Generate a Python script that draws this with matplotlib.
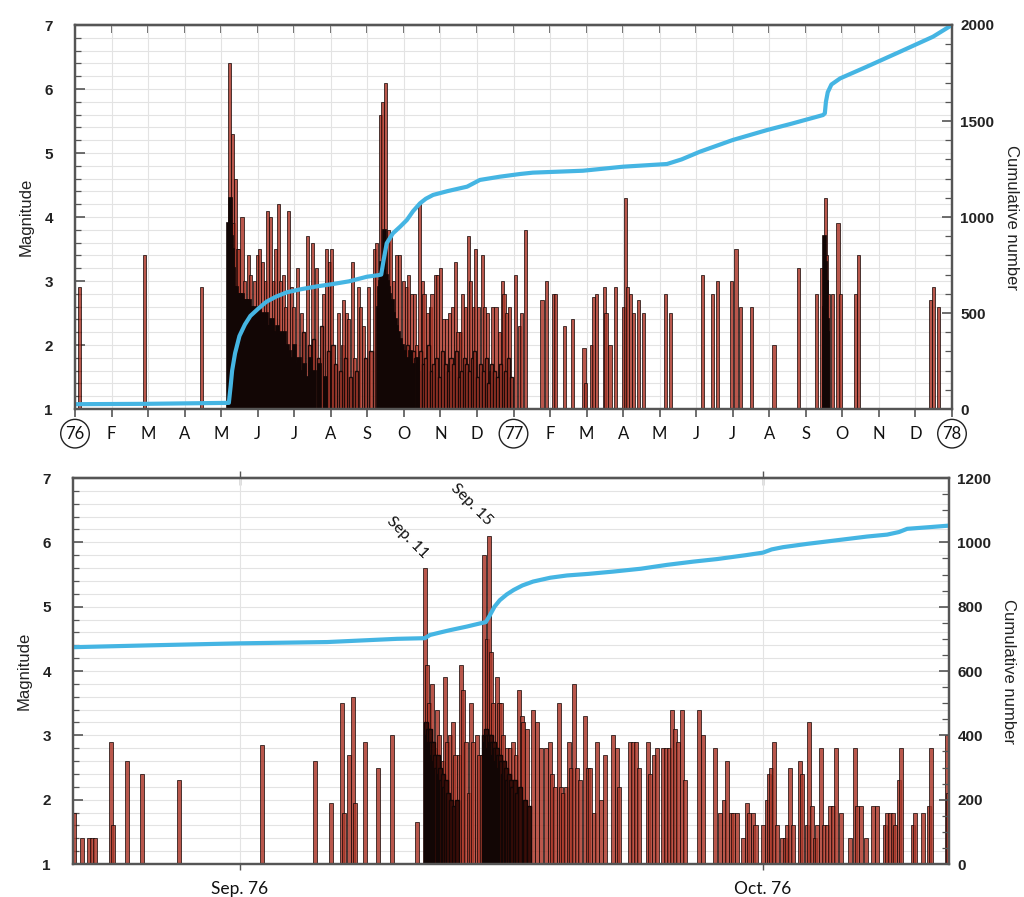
import matplotlib
matplotlib.use('Agg')
import matplotlib.pyplot as plt
from matplotlib.ticker import MultipleLocator

# ---------------- DATA: top panel (x in months since Jan 1976) ----------------
month_labels = ['76', 'F', 'M', 'A', 'M', 'J', 'J', 'A', 'S', 'O', 'N', 'D',
                '77', 'F', 'M', 'A', 'M', 'J', 'J', 'A', 'S', 'O', 'N', 'D', '78']
circled_labels = ['76', '77', '78']

top_t = [0.12, 1.90, 3.46, 4.22, 4.25, 4.30, 4.33, 4.39, 4.44, 4.48, 4.57, 4.64, 4.75, 4.81,
         4.90, 4.99, 5.04, 5.14, 5.21, 5.28, 5.36, 5.43, 5.48, 5.56, 5.63, 5.70, 5.76,
         5.85, 5.92, 5.97, 6.10, 6.19, 6.36, 6.49, 6.60, 6.81, 6.89, 6.96, 7.01, 7.22,
         7.31, 7.36, 7.44, 7.49, 7.60, 7.65, 7.76, 7.82, 7.89, 8.04, 8.20, 8.26, 8.35,
         8.42, 8.49, 8.57, 8.64, 8.71, 8.80, 8.89, 9.00, 9.06, 9.13, 9.22, 9.30, 9.35,
         9.42, 9.50, 9.55, 9.64, 9.72, 9.77, 9.86, 9.92, 10.01, 10.08, 10.17, 10.24,
         10.32, 10.41, 10.48, 10.54, 10.61, 10.68, 10.76, 10.83, 10.90, 10.97, 11.05,
         11.14, 11.21, 11.28, 11.36, 11.43, 11.52, 11.61, 11.70, 11.74, 11.81, 11.90,
         12.05, 12.16, 12.22, 12.34, 12.78, 12.91, 13.09, 13.16, 13.40, 13.62, 13.93,
         13.97, 14.13, 14.20, 14.28, 14.48, 14.53, 14.64, 14.79, 15.01, 15.06, 15.11,
         15.19, 15.28, 15.41, 15.55, 16.17, 16.30, 17.16, 17.45, 17.58, 17.96, 18.09,
         18.20, 18.51, 19.13, 19.79, 20.28, 20.44, 20.53, 20.57, 20.63, 20.74, 20.88,
         20.94, 21.35, 21.45, 23.42, 23.49, 23.64]
top_m = [2.9, 3.4, 2.9, 6.4, 4.3, 5.3, 3.9, 4.6, 3.5, 3.5, 4.0, 3.0, 3.4, 3.1,
         3.0, 3.4, 3.5, 3.3, 3.0, 4.1, 4.0, 3.0, 3.5, 4.2, 3.0, 3.1, 2.6,
         4.1, 2.9, 2.6, 3.2, 2.5, 3.7, 3.6, 3.2, 2.8, 3.5, 3.3, 3.5, 2.5,
         2.0, 2.7, 2.5, 2.4, 3.3, 1.8, 2.9, 2.6, 2.3, 2.9, 3.5, 3.6, 5.6,
         5.8, 6.1, 3.8, 3.7, 3.0, 3.4, 3.4, 3.0, 2.9, 3.1, 2.8, 2.8, 2.0,
         4.2, 3.0, 2.8, 2.5, 2.6, 2.8, 3.1, 3.1, 3.2, 2.4, 2.4, 2.5,
         2.6, 3.3, 2.2, 2.2, 2.8, 2.6, 3.7, 3.0, 2.6, 3.5, 2.6,
         3.4, 2.6, 2.5, 1.6, 2.6, 2.6, 2.2, 3.0, 2.8, 2.5, 2.6,
         3.1, 2.3, 2.5, 3.8, 2.7, 3.0, 2.8, 2.8, 2.3, 2.4, 1.95,
         1.4, 2.0, 2.75, 2.8, 2.9, 2.5, 2.0, 2.9, 2.6, 4.3, 2.9,
         2.8, 2.5, 2.7, 2.5, 2.8, 2.5, 3.1, 2.8, 3.0, 3.0, 3.5,
         2.6, 2.6, 2.0, 3.2, 2.8, 3.2, 4.3, 3.4, 2.8, 2.8, 3.9,
         2.8, 2.8, 3.4, 2.7, 2.9, 2.6]

# dense aftershock swarms (many overlapping events)
top_swarm_t = [4.21, 4.24, 4.26, 4.28, 4.31, 4.33, 4.36, 4.38, 4.41, 4.43, 4.46, 4.50,
               4.53, 4.55, 4.59, 4.62, 4.66, 4.69, 4.72, 4.77, 4.80, 4.84, 4.87, 4.92,
               4.95, 4.98, 5.02, 5.06, 5.10, 5.12, 5.17, 5.19, 5.24, 5.26, 5.31, 5.34,
               5.39, 5.41, 5.46, 5.50, 5.53, 5.58, 5.61, 5.66, 5.68, 5.73, 5.78, 5.81,
               5.88, 5.94, 6.00, 6.06, 6.13, 6.21, 6.27, 6.34, 6.45, 6.55, 6.70, 6.85,
               8.30, 8.33, 8.37, 8.40, 8.44, 8.47, 8.51, 8.54, 8.58, 8.61, 8.65, 8.68,
               8.72, 8.76, 8.80, 8.85, 8.90, 8.95, 9.02, 9.09, 9.18, 9.27, 9.38,
               20.50, 20.52, 20.545, 20.56, 20.58, 20.60]
top_swarm_m = [3.9, 3.8, 4.3, 3.7, 3.5, 3.2, 2.9, 2.8, 2.8, 2.9, 2.7, 2.8,
               2.8, 2.7, 2.8, 2.6, 2.7, 2.7, 2.6, 2.7, 2.5, 2.6, 2.5, 2.6,
               2.5, 2.4, 2.5, 2.6, 2.4, 2.5, 2.4, 2.3, 2.5, 2.3, 2.2, 2.3,
               2.4, 2.2, 2.1, 2.2, 2.3, 2.1, 2.2, 2.0, 2.1, 2.2, 1.9, 2.0,
               1.9, 1.8, 2.0, 1.7, 1.8, 1.6, 1.7, 1.5, 1.8, 1.6, 1.7, 1.5,
               2.6, 2.9, 3.0, 3.3, 2.9, 3.8, 3.1, 3.0, 2.9, 2.8, 2.6, 2.7,
               2.5, 2.4, 2.3, 2.2, 2.1, 2.0, 1.9, 1.8, 1.9, 1.7, 1.8,
               2.6, 3.7, 3.3, 3.0, 2.4, 2.2]

# smaller background events
top_small_t = [6.25, 6.42, 6.53, 6.66, 6.75, 6.93, 7.06, 7.13, 7.27, 7.40, 7.55, 7.70,
               7.94, 8.10, 9.03, 9.10, 9.17, 9.26, 9.33, 9.39, 9.46, 9.53, 9.60, 9.68,
               9.75, 9.82, 9.90, 9.97, 10.05, 10.13, 10.21, 10.29, 10.37, 10.45, 10.52,
               10.58, 10.65, 10.72, 10.80, 10.87, 10.94, 11.01, 11.10, 11.18, 11.25,
               11.33, 11.40, 11.48, 11.56, 11.65, 11.78, 11.86, 11.95]
top_small_m = [2.2, 2.0, 2.1, 1.8, 2.3, 1.9, 2.0, 1.7, 1.6, 1.8, 1.5, 1.6,
               1.8, 1.9, 1.8, 2.0, 1.7, 1.9, 1.8, 1.6, 1.9, 1.7, 1.8, 2.0,
               1.6, 1.7, 1.8, 1.5, 1.9, 1.7, 1.6, 1.8, 1.7, 1.9, 1.5,
               1.6, 1.8, 1.7, 1.6, 1.8, 1.9, 1.5, 1.7, 1.6, 1.8,
               1.4, 1.7, 1.6, 1.5, 1.7, 1.6, 1.8, 1.5]

top_cum_t = [0.0, 2.0, 4.21, 4.26, 4.30, 4.38, 4.50, 4.65, 4.80, 5.00, 5.24, 5.50, 5.80,
             6.16, 6.60, 7.06, 7.50, 7.99, 8.30, 8.38, 8.45, 8.53, 8.70, 8.90, 9.08,
             9.25, 9.44, 9.60, 9.80, 10.20, 10.73, 11.08, 11.63, 12.18, 12.53, 13.90,
             15.0, 16.20, 16.60, 17.1, 18.0, 18.94, 19.57, 20.47, 20.52, 20.55, 20.60,
             20.70, 20.94, 21.67, 22.58, 23.48, 24.0]
top_cum_n = [25, 27, 32, 120, 200, 290, 380, 440, 485, 520, 559, 585, 608,
             623, 638, 651, 665, 689, 697, 700, 780, 863, 915, 950, 984,
             1030, 1071, 1095, 1115, 1135, 1158, 1193, 1210, 1224, 1231, 1241,
             1262, 1276, 1300, 1340, 1401, 1453, 1484, 1531, 1540, 1600, 1650,
             1690, 1722, 1783, 1861, 1939, 2000]

# ---------------- DATA: bottom panel (x in days since 1 Sep 1976) ----------------
bot_tick_pos = [0, 30]
bot_tick_labels = ['Sep. 76', 'Oct. 76']

bot_t = [-9.52, -9.06, -8.68, -8.49, -8.30, -7.40, -7.30, -6.46, -5.62, -3.52, 1.24,
         4.32, 5.22, 5.83, 5.99, 6.24, 6.46, 6.58, 7.17, 7.94, 8.72, 10.14, 10.63,
         10.71, 10.83, 11.02, 11.17, 11.32, 11.44, 11.63, 11.78, 11.89, 12.05, 12.20,
         12.35, 12.55, 12.70, 12.81, 12.97, 13.12, 13.24, 13.39, 13.58, 13.73, 13.88,
         14.00, 14.15, 14.27, 14.38, 14.53, 14.73, 14.84, 14.96, 15.11, 15.22, 15.34,
         15.49, 15.68, 15.83, 15.99, 16.18, 16.26, 16.45, 16.79, 17.02, 17.29, 17.56,
         17.79, 17.90, 18.09, 18.32, 18.43, 18.55, 18.70, 18.89, 19.01, 19.16, 19.35,
         19.51, 19.81, 19.97, 20.08, 20.31, 20.46, 20.69, 20.92, 21.42, 21.61, 21.73,
         22.38, 22.53, 22.72, 22.91, 23.41, 23.52, 23.75, 23.91, 24.29, 24.44, 24.63,
         24.78, 24.98, 25.13, 25.36, 25.51, 26.32, 26.55, 27.23, 27.54, 27.77, 27.96,
         28.19, 28.30, 28.53, 28.88, 29.07, 29.22, 29.45, 29.57, 30.02, 30.22, 30.33,
         30.48, 30.64, 30.79, 31.10, 31.29, 31.40, 31.56, 31.74, 32.13, 32.24, 32.51,
         32.63, 32.82, 33.01, 33.12, 33.35, 33.51, 33.66, 33.85, 34.04, 34.19, 34.50,
         35.00, 35.30, 35.42, 35.61, 35.92, 36.30, 36.56, 37.02, 37.14, 37.29, 37.45,
         37.60, 37.79, 37.94, 38.59, 38.70, 39.20, 39.51, 39.66, 40.54, 40.62]
bot_m = [1.8, 1.4, 1.4, 1.4, 1.4, 2.9, 1.6, 2.6, 2.4, 2.3, 2.85,
         2.6, 1.95, 3.5, 1.8, 2.7, 3.6, 1.95, 2.9, 2.5, 3.0, 1.65, 5.6,
         4.1, 3.5, 3.8, 2.8, 3.4, 3.0, 2.6, 3.9, 2.9, 3.0, 3.2,
         2.7, 2.7, 4.1, 3.7, 2.9, 2.1, 3.5, 2.9, 3.0, 2.7, 2.7,
         5.8, 4.5, 6.1, 4.3, 3.5, 3.9, 3.5, 3.5, 3.0, 2.5, 2.8,
         2.8, 2.9, 2.7, 3.7, 3.3, 3.2, 3.1, 3.4, 3.2, 2.8, 2.8,
         2.9, 2.4, 2.2, 3.5, 2.2, 2.1, 2.2, 2.9, 2.5, 3.8, 2.5,
         2.3, 3.3, 2.5, 2.5, 1.8, 2.9, 2.0, 2.7, 3.0, 2.8, 2.2,
         2.9, 2.9, 2.9, 2.5, 2.9, 2.4, 2.7, 2.8, 2.8, 2.8, 2.8,
         3.4, 3.1, 2.9, 3.4, 2.3, 3.4, 3.0, 2.8, 1.8, 2.0, 2.6,
         1.8, 1.8, 1.8, 1.4, 1.95, 1.8, 1.8, 1.6, 1.6, 2.0, 2.4,
         2.5, 2.9, 1.6, 1.4, 1.4, 1.6, 2.5, 1.6, 2.6, 2.4, 1.6,
         3.2, 1.9, 1.4, 1.6, 2.8, 1.6, 1.6, 1.9, 1.9, 2.8, 1.8,
         1.4, 2.8, 1.9, 1.9, 1.4, 1.9, 1.9, 1.6, 1.8, 1.8, 1.8,
         1.6, 2.3, 2.8, 1.6, 1.8, 1.8, 1.9, 2.8, 3.0, 2.1]

bot_swarm_t = [10.66, 10.72, 10.77, 10.82, 10.88, 10.93, 10.98, 11.04, 11.09, 11.14,
               11.20, 11.26, 11.33, 11.40, 11.48, 11.55, 11.64, 11.72, 11.84, 11.95,
               12.10, 12.28, 12.45,
               14.02, 14.07, 14.12, 14.17, 14.22, 14.27, 14.32, 14.37, 14.42, 14.47,
               14.52, 14.58, 14.63, 14.68, 14.74, 14.80, 14.86, 14.93, 15.00, 15.07,
               15.15, 15.24, 15.33, 15.42, 15.52, 15.62, 15.75, 15.90, 16.05, 16.35,
               16.60]
bot_swarm_m = [3.2, 3.0, 3.1, 2.9, 3.1, 2.8, 2.9, 2.7, 2.9, 2.6,
               2.7, 2.5, 2.7, 2.4, 2.5, 2.3, 2.4, 2.2, 2.3, 2.1,
               2.0, 1.9, 2.0,
               3.0, 2.9, 3.1, 3.0, 2.8, 3.0, 2.9, 2.8, 3.0, 2.9,
               2.7, 2.9, 2.8, 2.6, 2.8, 2.7, 2.5, 2.7, 2.6, 2.4,
               2.6, 2.5, 2.3, 2.4, 2.3, 2.2, 2.3, 2.1, 2.2, 2.0,
               1.9]

bot_cum_t = [-9.58, -5.0, 0.0, 5.0, 7.0, 9.0, 10.6, 10.9, 11.5, 12.05, 13.0, 13.77,
             14.1, 14.3, 14.6, 14.9, 15.3, 15.7, 16.2, 16.81, 17.8, 18.76, 20.0, 21.4,
             23.0, 24.5, 26.0, 27.37, 29.0, 30.0, 30.5, 31.15, 32.5, 34.02, 35.97,
             37.12, 37.8, 38.27, 39.5, 40.67]
bot_cum_n = [674, 680, 686, 690, 695, 700, 702, 712, 720, 727, 738, 748,
             752, 770, 800, 820, 838, 852, 866, 878, 890, 897, 902, 909,
             918, 930, 940, 948, 960, 968, 978, 985, 995, 1005, 1018,
             1024, 1032, 1042, 1047, 1052]

annotations = [('Sep. 11', 10.63, 5.6), ('Sep. 15', 14.27, 6.1)]

# ---------------- STYLE ----------------
BAR_FC = '#ad3a2c'
BAR_EC = '#120605'
LINE_C = '#45b5e3'
GRID_C = '#e3e3e3'
SPINE_C = '#555555'
NUM_FONT = 'Liberation Sans'
TXT_FONT = 'Lato'

fig = plt.figure(figsize=(10.24, 8.97), dpi=100)
ax1 = fig.add_axes([75/1024, 1-409/897, 877/1024, 384/897])
ax2 = fig.add_axes([73/1024, 1-864/897, 876/1024, 386/897])


def style_mag(ax):
    ax.set_ylim(1, 7)
    ax.yaxis.set_major_locator(MultipleLocator(1))
    ax.yaxis.set_minor_locator(MultipleLocator(0.2))
    ax.tick_params(axis='y', which='both', direction='in', color=SPINE_C)
    ax.tick_params(axis='y', which='major', length=7, width=1.2, pad=16)
    ax.tick_params(axis='y', which='minor', length=4, width=0.9)
    ax.grid(which='both', axis='y', color=GRID_C, lw=0.8)
    ax.grid(which='major', axis='x', color=GRID_C, lw=0.8)
    ax.set_axisbelow(True)
    for lab in ax.get_yticklabels():
        lab.set_fontfamily(NUM_FONT)
        lab.set_fontweight('bold')
        lab.set_fontsize(11)
        lab.set_color('#222222')
    ax.set_ylabel('Magnitude', fontfamily=NUM_FONT, fontsize=12, color='#222222',
                  labelpad=8)
    for s in ax.spines.values():
        s.set_color(SPINE_C)
        s.set_linewidth(1.6)


def style_cum(tw, top, major, minor):
    tw.set_ylim(0, top)
    tw.yaxis.set_major_locator(MultipleLocator(major))
    tw.yaxis.set_minor_locator(MultipleLocator(minor))
    tw.tick_params(axis='y', which='both', direction='in', color=SPINE_C)
    tw.tick_params(axis='y', which='major', length=7, width=1.2, pad=6)
    tw.tick_params(axis='y', which='minor', length=5, width=0.9)
    for lab in tw.get_yticklabels():
        lab.set_fontfamily(NUM_FONT)
        lab.set_fontweight('bold')
        lab.set_fontsize(11)
        lab.set_color('#222222')
    tw.set_ylabel('Cumulative number', fontfamily=NUM_FONT, fontsize=12,
                  color='#222222', rotation=270, labelpad=18)
    for s in tw.spines.values():
        s.set_color(SPINE_C)
        s.set_linewidth(1.6)


# ---- top panel ----
TOP_W = 0.085
ax1.bar(top_t, [m - 1 for m in top_m], bottom=1, width=TOP_W,
        color=BAR_FC, edgecolor=BAR_EC, linewidth=0.6, alpha=0.85)
ax1.bar(top_small_t, [m - 1 for m in top_small_m], bottom=1, width=TOP_W,
        color=BAR_FC, edgecolor=BAR_EC, linewidth=1.0, alpha=0.9)
ax1.bar(top_swarm_t, [m - 1 for m in top_swarm_m], bottom=1, width=TOP_W,
        color=BAR_EC, edgecolor=BAR_EC, linewidth=1.2)
ax1.set_xlim(0, 24)
ax1.set_xticks(range(len(month_labels)))
ax1.set_xticklabels(month_labels)
ax1.tick_params(axis='x', which='major', direction='out', length=6, width=1.2,
                color=SPINE_C, pad=6)
for lab in ax1.get_xticklabels():
    lab.set_fontfamily(TXT_FONT)
    lab.set_fontsize(12)
    lab.set_color('#111111')
    if lab.get_text() in circled_labels:
        lab.set_bbox(dict(boxstyle='circle,pad=0.28', fc='white', ec='#222222', lw=1.0))
style_mag(ax1)
secx = ax1.secondary_xaxis('top')
secx.set_xticks(range(len(month_labels)))
secx.tick_params(direction='in', length=6, width=1.2, color=SPINE_C, labeltop=False)
secx.spines['top'].set_color(SPINE_C)
secx.spines['top'].set_linewidth(1.6)

tw1 = ax1.twinx()
tw1.plot(top_cum_t, top_cum_n, color=LINE_C, lw=3, solid_joinstyle='round',
         solid_capstyle='round')
style_cum(tw1, 2000, 500, 100)

# ---- bottom panel ----
BOT_W = 0.23
ax2.bar(bot_t, [m - 1 for m in bot_m], bottom=1, width=BOT_W,
        color=BAR_FC, edgecolor=BAR_EC, linewidth=0.6, alpha=0.85)
ax2.bar(bot_swarm_t, [m - 1 for m in bot_swarm_m], bottom=1, width=BOT_W,
        color='#3a0d08', edgecolor=BAR_EC, linewidth=1.0)
ax2.set_xlim(-9.58, 40.67)
ax2.set_xticks(bot_tick_pos)
ax2.set_xticklabels(bot_tick_labels)
ax2.tick_params(axis='x', which='major', direction='out', length=4, width=1,
                color=SPINE_C, pad=8)
for lab in ax2.get_xticklabels():
    lab.set_fontfamily(TXT_FONT)
    lab.set_fontsize(12.5)
    lab.set_color('#111111')
style_mag(ax2)
secx2 = ax2.secondary_xaxis('top')
secx2.set_xticks(bot_tick_pos)
secx2.tick_params(direction='inout', length=10, width=1, color=SPINE_C, labeltop=False)
secx2.spines['top'].set_color(SPINE_C)
secx2.spines['top'].set_linewidth(1.6)

for txt, x, m in annotations:
    ax2.text(x - 0.1, m + 0.15, txt, rotation=-45, rotation_mode='anchor',
             ha='right', va='baseline', fontfamily=TXT_FONT, fontsize=11.5,
             color='#111111')

tw2 = ax2.twinx()
tw2.plot(bot_cum_t, bot_cum_n, color=LINE_C, lw=3, solid_joinstyle='round',
         solid_capstyle='round')
style_cum(tw2, 1200, 200, 50)

fig.savefig('out.png', dpi=100, facecolor='white')
